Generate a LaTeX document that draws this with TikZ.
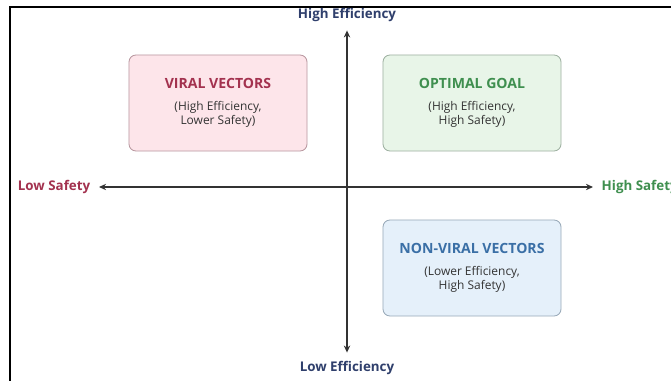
\documentclass[tikz,border=0pt]{standalone}
\usepackage{fontspec}
\setmainfont{Open Sans}
\usetikzlibrary{arrows.meta}

\definecolor{viralfill}{HTML}{FDE5EA}
\definecolor{viralline}{HTML}{B8979F}
\definecolor{viraltext}{HTML}{A3324F}
\definecolor{goalfill}{HTML}{E8F5E8}
\definecolor{goalline}{HTML}{9DB0A0}
\definecolor{goaltext}{HTML}{3F8F4F}
\definecolor{nonviralfill}{HTML}{E5F0FA}
\definecolor{nonviralline}{HTML}{98A9B8}
\definecolor{nonviraltext}{HTML}{3A6FA6}
\definecolor{efftext}{HTML}{2F3F6C}
\definecolor{axisline}{HTML}{333333}

\begin{document}
\begin{tikzpicture}[x=0.025cm,y=-0.025cm,
  quad/.style={draw=#1line, fill=#1fill, line width=0.6pt, rounded corners=5pt,
    align=center, minimum width=4.45cm, minimum height=2.4cm,
    font=\fontsize{8.5}{10.5}\selectfont, text=black!80},
  quadtitle/.style={font=\fontsize{10}{12}\selectfont\bfseries},
  axislabel/.style={font=\fontsize{9.5}{11}\selectfont\bfseries, inner sep=6pt},
  axis/.style={{Stealth[length=5pt,width=4.5pt]}-{Stealth[length=5pt,width=4.5pt]},
    draw=axisline, line width=0.9pt}]
\useasboundingbox (0,0) rectangle (671,381);
\clip (0,0) rectangle (671,381);
\fill[white] (0,0) rectangle (671,381);
\draw[line width=1.1pt] (10,390) |- (680,7);

% the three quadrant boxes
\node[quad=viral] (viral) at (218,103)
  {{\fontsize{10}{12}\selectfont\bfseries\color{viraltext}VIRAL VECTORS}\\[5pt](High Efficiency,\\Lower Safety)};
\node[quad=goal] (goal) at (472,103)
  {{\fontsize{10}{12}\selectfont\bfseries\color{goaltext}OPTIMAL GOAL}\\[5pt](High Efficiency,\\High Safety)};
\node[quad=nonviral] (nonviral) at (472,268)
  {{\fontsize{10}{12}\selectfont\bfseries\color{nonviraltext}NON-VIRAL VECTORS}\\[5pt](Lower Efficiency,\\High Safety)};

% axis labels
\node[axislabel, text=efftext] (higheff) at (347,15) {High Efficiency};
\node[axislabel, text=efftext] (loweff) at (347,368) {Low Efficiency};
\node[axislabel, text=viraltext, anchor=east] (lowsafe) at (99,187) {Low Safety};
\node[axislabel, text=goaltext, anchor=west] (highsafe) at (593,187) {High Safety};

% axes
\draw[axis] (higheff) -- (loweff);
\draw[axis] (lowsafe) -- (highsafe);
\end{tikzpicture}
\end{document}
